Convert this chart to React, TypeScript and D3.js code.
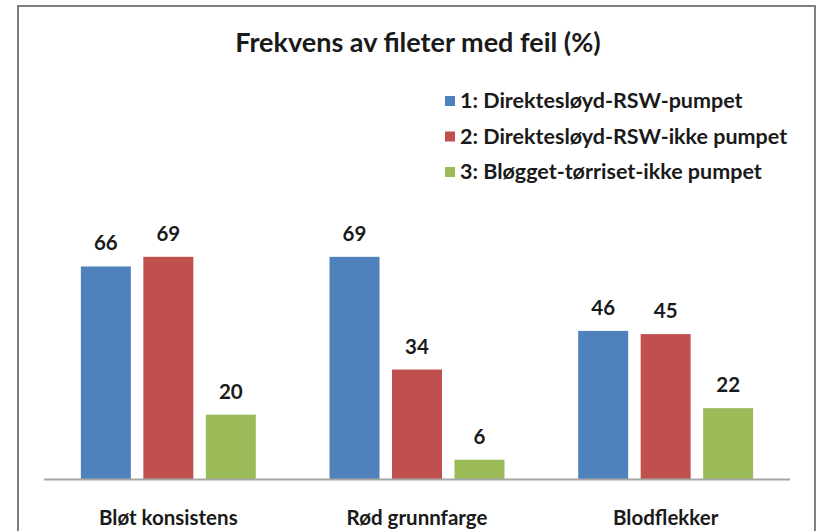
import React from 'react';
import * as d3 from 'd3';

// chart data
const categories = ['Bløt konsistens', 'Rød grunnfarge', 'Blodflekker'];
const seriesNames = ['1: Direktesløyd-RSW-pumpet', '2: Direktesløyd-RSW-ikke pumpet', '3: Bløgget-tørriset-ikke pumpet'];
const seriesValues = [
  [66, 69, 46],
  [69, 34, 45],
  [20, 6, 22],
];
const colors = ['#4F81BD', '#C0504D', '#9BBB59'];
const title = 'Frekvens av fileter med feil (%)';

const W = 817;
const H = 531;
const FONT = 'Lato, "Open Sans", sans-serif';

const App = () => {
  const x = d3.scaleBand<string>().domain(categories).range([44, 790]).padding(0);
  const xInner = d3.scaleBand<number>()
    .domain(d3.range(seriesNames.length))
    .range([0, x.bandwidth()])
    .paddingInner(0.2)
    .paddingOuter(0.59);
  const y = d3.scaleLinear().domain([0, 70]).range([479, 253.6]);

  // legend layout
  const legendY = d3.scalePoint<number>().domain(d3.range(seriesNames.length)).range([101, 172]);

  return (
    <svg width={W} height={H} style={{ position: 'absolute', left: 0, top: 0 }} fontFamily={FONT}>
      <rect x={0} y={0} width={W} height={H} fill="#fff" />
      {/* chart frame */}
      <rect x={18} y={6} width={797} height={H + 20} fill="#fff" stroke="#7f7f7f" strokeWidth={2} />

      <text x={418} y={52} textAnchor="middle" fontSize={27} fontWeight={700} fill="#1a1a1a">
        {title}
      </text>

      {/* legend */}
      {seriesNames.map((name, i) => (
        <g key={name}>
          <rect x={445} y={legendY(i)! - 5} width={10} height={10} fill={colors[i]} />
          <text x={460} y={legendY(i)! + 7} fontSize={21.5} fontWeight={700} fill="#1a1a1a">
            {name}
          </text>
        </g>
      ))}

      {/* bars */}
      {categories.map((cat, ci) => (
        <g key={cat} transform={`translate(${x(cat)},0)`}>
          {seriesValues.map((vals, si) => (
            <g key={si}>
              <rect
                x={xInner(si)}
                y={y(vals[ci])}
                width={xInner.bandwidth()}
                height={y(0) - y(vals[ci])}
                fill={colors[si]}
              />
              <text
                x={xInner(si)! + xInner.bandwidth() / 2}
                y={y(vals[ci]) - 16}
                textAnchor="middle"
                fontSize={20.5}
                fontWeight={700}
                fill="#1a1a1a"
              >
                {vals[ci]}
              </text>
            </g>
          ))}
          <text
            x={x.bandwidth() / 2}
            y={525}
            textAnchor="middle"
            fontSize={20.5}
            fontWeight={700}
            fill="#1a1a1a"
          >
            {cat}
          </text>
        </g>
      ))}

      {/* x axis line */}
      <line x1={44} x2={790} y1={479.5} y2={479.5} stroke="#a6a6a6" strokeWidth={2} />
    </svg>
  );
};

export default App;
